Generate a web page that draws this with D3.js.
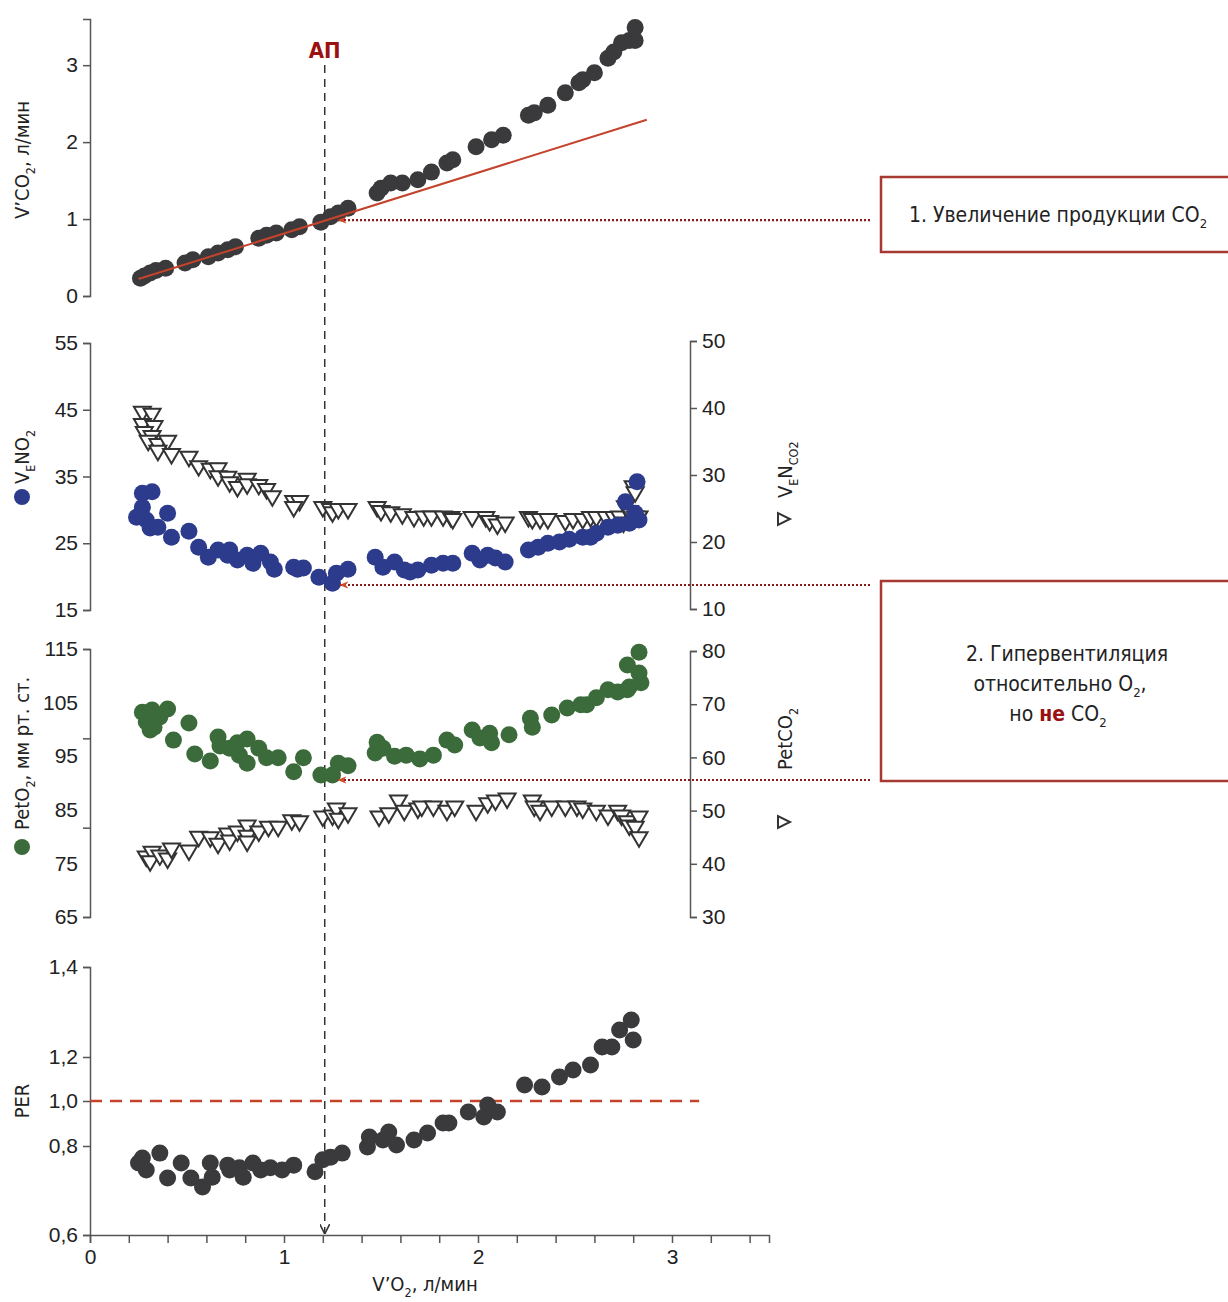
<!DOCTYPE html>
<html>
<head>
<meta charset="utf-8">
<script src="https://cdn.jsdelivr.net/npm/d3@7"></script>
<style>
  body { margin: 0; background: #fff; }
  svg { display: block; font-family: "Liberation Sans Narrow", "DejaVu Sans Condensed", "Roboto", sans-serif; font-stretch: condensed; }
  .axis path, .axis line { stroke: #555; stroke-width: 1.5; }
  .axis text { font-size: 21px; fill: #222; font-family: inherit; }
</style>
</head>
<body>
<div id="chart"></div>
<script>
// [V'O2, value] pairs
const vco2Pts = [[0.26,0.23],[0.28,0.26],[0.31,0.30],[0.34,0.33],[0.39,0.36],[0.49,0.43],[0.53,0.47],[0.61,0.51],[0.66,0.56],[0.71,0.60],[0.75,0.64],[0.87,0.75],[0.91,0.79],[0.96,0.82],[1.04,0.86],[1.08,0.90],[1.19,0.96],[1.24,1.03],[1.28,1.08],[1.33,1.14],[1.48,1.34],[1.50,1.40],[1.55,1.47],[1.61,1.47],[1.69,1.51],[1.76,1.61],[1.84,1.73],[1.87,1.77],[1.99,1.94],[2.07,2.03],[2.13,2.09],[2.26,2.35],[2.29,2.38],[2.36,2.48],[2.45,2.64],[2.52,2.77],[2.54,2.81],[2.60,2.90],[2.67,3.09],[2.70,3.17],[2.74,3.29],[2.78,3.32],[2.81,3.49],[2.81,3.32]];
const vco2Trend = [[0.25,0.22],[2.87,2.29]];

const veVo2Pts = [[0.27,32.5],[0.32,32.7],[0.24,28.9],[0.27,30.4],[0.29,28.5],[0.31,27.3],[0.35,27.4],[0.40,29.5],[0.42,25.9],[0.51,26.8],[0.56,24.4],[0.61,22.9],[0.66,24.0],[0.71,23.2],[0.72,24.0],[0.76,22.5],[0.81,23.2],[0.84,22.0],[0.88,23.5],[0.93,22.2],[0.95,21.1],[1.05,21.4],[1.07,21.1],[1.10,21.3],[1.18,19.9],[1.25,19.0],[1.27,20.5],[1.33,21.1],[1.47,22.9],[1.51,21.4],[1.57,22.2],[1.62,21.0],[1.65,20.7],[1.69,21.0],[1.76,21.7],[1.82,22.0],[1.87,22.0],[1.97,23.5],[2.01,22.5],[2.05,23.2],[2.09,22.8],[2.14,22.2],[2.26,24.0],[2.31,24.4],[2.36,25.0],[2.42,25.2],[2.47,25.6],[2.54,25.9],[2.58,25.9],[2.61,26.5],[2.67,27.4],[2.72,27.7],[2.76,31.2],[2.78,28.0],[2.82,34.2],[2.83,28.5],[2.81,29.5]];
const veVco2Pts = [[0.27,39.2],[0.32,38.9],[0.27,37.4],[0.33,37.1],[0.28,36.2],[0.32,35.6],[0.30,34.9],[0.35,34.4],[0.40,34.9],[0.35,33.4],[0.42,32.9],[0.51,32.5],[0.56,31.1],[0.62,30.7],[0.66,30.8],[0.66,29.6],[0.71,29.5],[0.72,28.7],[0.76,28.0],[0.81,29.2],[0.81,28.4],[0.87,28.3],[0.91,27.7],[0.94,26.6],[1.05,25.9],[1.08,25.9],[1.05,25.0],[1.20,25.0],[1.24,24.7],[1.25,24.2],[1.28,24.7],[1.33,24.7],[1.48,25.0],[1.50,24.4],[1.55,24.2],[1.61,23.9],[1.67,23.5],[1.72,23.6],[1.76,23.6],[1.82,23.6],[1.86,23.5],[1.87,23.2],[1.97,23.5],[2.04,23.5],[2.06,22.9],[2.10,22.4],[2.14,22.7],[2.26,23.5],[2.28,23.2],[2.32,23.2],[2.36,23.2],[2.45,22.9],[2.49,23.2],[2.54,23.2],[2.58,23.5],[2.61,23.5],[2.66,23.5],[2.70,23.5],[2.73,23.6],[2.75,22.7],[2.76,25.1],[2.78,24.4],[2.81,23.6],[2.83,23.6],[2.80,28.1],[2.81,27.2]];

const peto2Pts = [[0.27,103.2],[0.32,103.6],[0.40,103.8],[0.29,101.4],[0.31,99.9],[0.33,100.4],[0.36,102.3],[0.43,98.0],[0.51,101.2],[0.54,95.4],[0.62,94.1],[0.66,98.6],[0.67,96.9],[0.72,96.5],[0.76,97.5],[0.81,98.2],[0.77,95.2],[0.81,93.7],[0.87,96.5],[0.91,94.7],[0.97,94.7],[1.05,92.1],[1.10,94.7],[1.19,91.5],[1.25,91.5],[1.28,93.7],[1.33,93.2],[1.48,97.6],[1.47,95.6],[1.51,96.5],[1.57,95.0],[1.63,95.2],[1.70,94.5],[1.77,95.2],[1.84,98.0],[1.88,97.1],[1.97,99.9],[2.01,98.4],[2.06,99.3],[2.07,97.5],[2.16,99.0],[2.27,102.1],[2.28,100.4],[2.38,102.7],[2.46,104.0],[2.53,104.6],[2.56,104.6],[2.61,105.9],[2.67,107.4],[2.72,107.0],[2.77,107.4],[2.78,107.9],[2.77,112.0],[2.83,110.5],[2.84,108.7],[2.83,114.4]];
const petco2Pts = [[0.29,41.1],[0.32,42.0],[0.31,40.2],[0.36,41.3],[0.40,40.7],[0.42,42.6],[0.51,42.2],[0.56,44.8],[0.62,44.7],[0.66,43.5],[0.71,45.4],[0.72,44.1],[0.76,45.8],[0.81,46.9],[0.81,45.0],[0.81,43.9],[0.87,45.8],[0.92,46.7],[0.97,46.7],[1.04,47.9],[1.08,47.7],[1.20,48.6],[1.25,48.8],[1.27,50.1],[1.28,48.2],[1.33,49.2],[1.49,48.6],[1.54,49.2],[1.59,51.6],[1.62,49.7],[1.69,50.1],[1.71,50.5],[1.77,50.5],[1.84,49.7],[1.88,50.5],[1.99,49.7],[2.05,51.1],[2.09,51.6],[2.15,52.0],[2.28,51.6],[2.29,50.5],[2.32,49.7],[2.38,50.5],[2.45,50.5],[2.51,50.5],[2.54,50.1],[2.61,49.7],[2.67,48.8],[2.72,49.7],[2.74,48.8],[2.77,47.7],[2.78,46.9],[2.83,48.6],[2.81,46.7],[2.83,44.7]];

const perPts = [[0.25,0.762],[0.27,0.773],[0.29,0.746],[0.36,0.784],[0.40,0.728],[0.47,0.762],[0.52,0.728],[0.58,0.708],[0.62,0.762],[0.63,0.730],[0.71,0.757],[0.72,0.746],[0.77,0.751],[0.79,0.730],[0.84,0.762],[0.88,0.746],[0.93,0.751],[0.99,0.746],[1.05,0.757],[1.16,0.742],[1.20,0.769],[1.24,0.775],[1.30,0.784],[1.43,0.798],[1.44,0.84],[1.51,0.827],[1.54,0.862],[1.58,0.804],[1.67,0.827],[1.74,0.858],[1.82,0.902],[1.85,0.902],[1.95,0.951],[2.03,0.929],[2.05,0.982],[2.10,0.951],[2.24,1.073],[2.33,1.064],[2.42,1.109],[2.49,1.141],[2.58,1.164],[2.64,1.222],[2.69,1.222],[2.73,1.26],[2.79,1.282],[2.80,1.238]];

const xTicks = [0, 1, 2, 3];
const vco2Ticks = [0, 1, 2, 3];
const veVo2Ticks = [15, 25, 35, 45, 55];
const veVco2Ticks = [10, 20, 30, 40, 50];
const peto2Ticks = [65, 75, 85, 95, 105, 115];
const petco2Ticks = [30, 40, 50, 60, 70, 80];
const perTicks = [0.6, 0.8, 1.0, 1.2, 1.4];
const atValue = 1.21;      // АП
const perRef = 1.0;

const W = 1228, H = 1302;
const dark = '#3a3a3c', blue = '#2c3b8c', green = '#3b6b3a', red = '#c4432c', wine = '#8b1a1a';

const svg = d3.select('#chart').append('svg').attr('width', W).attr('height', H);
const defs = svg.append('defs');
defs.append('marker').attr('id', 'arrDark').attr('viewBox', '0 0 10 10').attr('refX', 10).attr('refY', 5)
  .attr('markerWidth', 10).attr('markerHeight', 10).attr('markerUnits', 'userSpaceOnUse').attr('orient', 'auto')
  .append('path').attr('d', 'M0,0 L10,5 L0,10').attr('fill', 'none').attr('stroke', '#333').attr('stroke-width', 1.6);
defs.append('marker').attr('id', 'arrRed').attr('viewBox', '0 0 10 10').attr('refX', 10).attr('refY', 5)
  .attr('markerWidth', 9).attr('markerHeight', 9).attr('markerUnits', 'userSpaceOnUse').attr('orient', 'auto')
  .append('path').attr('d', 'M0,1 L10,5 L0,9 L3,5 Z').attr('fill', '#d04a2a');

const x = d3.scaleLinear().domain([0, 3.5]).range([90, 769]);
const y1 = d3.scaleLinear().domain([0, 3.6]).range([296, 19]);
const y2L = d3.scaleLinear().domain([15, 55]).range([610, 343]);
const y2R = d3.scaleLinear().domain([10, 50]).range([609, 341]);
const y3L = d3.scaleLinear().domain([65, 115]).range([917, 649]);
const y3R = d3.scaleLinear().domain([30, 80]).range([917, 651]);
const y4 = d3.scaleLinear().domain(perTicks).range([1235, 1146, 1101, 1057, 967]);

const fmtComma = d => d3.format('.1f')(d).replace('.', ',');

function leftAxis(scale, ticks, fmt) {
  return svg.append('g').attr('class', 'axis').attr('transform', 'translate(90,0)')
    .call(d3.axisLeft(scale).tickValues(ticks).tickSizeOuter(0).tickSize(7).tickPadding(5).tickFormat(fmt || d3.format('d')));
}
function rightAxis(scale, ticks) {
  return svg.append('g').attr('class', 'axis').attr('transform', 'translate(690,0)')
    .call(d3.axisRight(scale).tickValues(ticks).tickSizeOuter(0).tickSize(7).tickPadding(5).tickFormat(d3.format('d')));
}

// axes
leftAxis(y1, vco2Ticks);
leftAxis(y2L, veVo2Ticks);
rightAxis(y2R, veVco2Ticks);
// panel 3: labels every 10, tick marks split the axis in three
const g3 = leftAxis(y3L, peto2Ticks);
g3.selectAll('.tick line').remove();
const g3t = svg.append('g').attr('class', 'axis').attr('transform', 'translate(90,0)')
  .call(d3.axisLeft(y3L).tickValues(d3.range(4).map(i => 65 + i * 50 / 3)).tickSizeOuter(0).tickSize(7));
g3t.select('.domain').remove();
g3t.selectAll('.tick text').remove();
rightAxis(y3R, petco2Ticks);
leftAxis(y4, perTicks, fmtComma);

const gx = svg.append('g').attr('class', 'axis').attr('transform', `translate(0,${y4(0.6)})`)
  .call(d3.axisBottom(x).tickValues(d3.range(0, 3.5, 0.2)).tickSizeOuter(0).tickSize(8).tickPadding(6)
    .tickFormat(d => xTicks.some(t => Math.abs(t - d) < 1e-6) ? d3.format('d')(d) : ''));
gx.selectAll('.tick text').filter(function () { return this.textContent === ''; }).remove();

// reference lines
svg.append('line').attr('x1', x(0)).attr('x2', x(3.14)).attr('y1', y4(perRef)).attr('y2', y4(perRef))
  .attr('stroke', red).attr('stroke-width', 2.5).attr('stroke-dasharray', '12,8');

svg.append('line').attr('x1', x(atValue)).attr('x2', x(atValue)).attr('y1', 65).attr('y2', y4(0.6) - 1)
  .attr('stroke', '#333').attr('stroke-width', 1.5).attr('stroke-dasharray', '8,6')
  .attr('marker-end', 'url(#arrDark)');

svg.append('text').attr('x', x(atValue)).attr('y', 58).attr('text-anchor', 'middle')
  .attr('font-size', 22).attr('font-weight', 'bold').attr('fill', '#9b1111').text('АП');

// markers
function dots(data, xs, ys, color) {
  svg.append('g').selectAll('circle').data(data).enter().append('circle')
    .attr('cx', d => xs(d[0])).attr('cy', d => ys(d[1])).attr('r', 8.5).attr('fill', color);
}
const tri = 'M-8.5,-6.5 L8.5,-6.5 L0,8 Z';
function tris(data, xs, ys) {
  svg.append('g').selectAll('path').data(data).enter().append('path')
    .attr('d', tri).attr('transform', d => `translate(${xs(d[0])},${ys(d[1])})`)
    .attr('fill', '#fff').attr('stroke', '#333').attr('stroke-width', 2).attr('stroke-linejoin', 'miter');
}
dots(vco2Pts, x, y1, dark);
tris(veVco2Pts, x, y2R);
dots(veVo2Pts, x, y2L, blue);
dots(peto2Pts, x, y3L, green);
tris(petco2Pts, x, y3R);
dots(perPts, x, y4, dark);

// trend line panel 1 (drawn over the dots)
svg.append('line').attr('x1', x(vco2Trend[0][0])).attr('y1', y1(vco2Trend[0][1]))
  .attr('x2', x(vco2Trend[1][0])).attr('y2', y1(vco2Trend[1][1]))
  .attr('stroke', red).attr('stroke-width', 2);

// dotted pointers to the boxes
[[1.26, y1(1.0) + 1], [1.27, 585], [1.26, 780]].forEach(([xv, yy]) => {
  svg.append('line').attr('x1', 870).attr('x2', x(xv) + 3).attr('y1', yy).attr('y2', yy)
    .attr('stroke', wine).attr('stroke-width', 2.2).attr('stroke-dasharray', '2,2')
    .attr('marker-end', 'url(#arrRed)');
});

// boxes
svg.append('rect').attr('x', 881).attr('y', 177).attr('width', 360).attr('height', 75)
  .attr('fill', 'none').attr('stroke', '#a63a33').attr('stroke-width', 2.5);
svg.append('rect').attr('x', 881).attr('y', 581).attr('width', 360).attr('height', 200)
  .attr('fill', 'none').attr('stroke', '#a63a33').attr('stroke-width', 2.5);

// text built from parts: {t}, {sub}, {b: bold red}
function rich(t, parts) {
  let shift = 0;
  parts.forEach(p => {
    const s = t.append('tspan');
    if (p.sub) {
      s.attr('dy', 6 - shift).attr('font-size', '0.62em').text(p.sub);
      shift = 6;
    } else {
      if (shift) s.attr('dy', -shift);
      shift = 0;
      s.text(p.t || p.b);
      if (p.b) s.attr('font-weight', 'bold').attr('fill', '#9b1111');
    }
  });
  return t;
}
function hText(cx, cy, parts) {
  return rich(svg.append('text').attr('x', cx).attr('y', cy).attr('text-anchor', 'middle')
    .attr('font-size', 21).attr('fill', '#222'), parts);
}
hText(1058, 222, [{ t: '1. Увеличение продукции CO' }, { sub: '2' }]);
hText(1067, 661, [{ t: '2. Гипервентиляция' }]);
hText(1060, 691, [{ t: 'относительно O' }, { sub: '2' }, { t: ',' }]);
hText(1058, 721, [{ t: 'но ' }, { b: 'не' }, { t: ' CO' }, { sub: '2' }]);

// axis titles
function vTitle(cx, cy, parts, anchor) {
  return rich(svg.append('text').attr('transform', `translate(${cx},${cy}) rotate(-90)`)
    .attr('text-anchor', anchor || 'middle').attr('font-size', 20).attr('fill', '#222'), parts);
}
vTitle(29, 160, [{ t: 'V\u2019CO' }, { sub: '2' }, { t: ', л/мин' }]);
vTitle(29, 484, [{ t: 'V' }, { sub: 'E' }, { t: 'NO' }, { sub: '2' }], 'start');
svg.append('circle').attr('cx', 22).attr('cy', 497).attr('r', 8).attr('fill', blue);
vTitle(792, 498, [{ t: 'V' }, { sub: 'E' }, { t: 'N' }, { sub: 'CO2' }], 'start');
svg.append('path').attr('d', 'M-6,-6 L-6,6 L6,0 Z').attr('transform', 'translate(784,519)')
  .attr('fill', '#fff').attr('stroke', '#333').attr('stroke-width', 2);

vTitle(29, 830, [{ t: 'PetO' }, { sub: '2' }, { t: ', мм рт. ст.' }], 'start');
svg.append('circle').attr('cx', 22).attr('cy', 847).attr('r', 8).attr('fill', green);
vTitle(792, 770, [{ t: 'PetCO' }, { sub: '2' }], 'start');
svg.append('path').attr('d', 'M-6,-6 L-6,6 L6,0 Z').attr('transform', 'translate(784,822)')
  .attr('fill', '#fff').attr('stroke', '#333').attr('stroke-width', 2);

vTitle(29, 1101, [{ t: 'PER' }]);

svg.append('text').attr('x', 425).attr('y', 1291).attr('text-anchor', 'middle').attr('font-size', 20).attr('fill', '#222')
  .call(t => rich(t, [{ t: 'V\u2019O' }, { sub: '2' }, { t: ', л/мин' }]));
</script>
</body>
</html>
